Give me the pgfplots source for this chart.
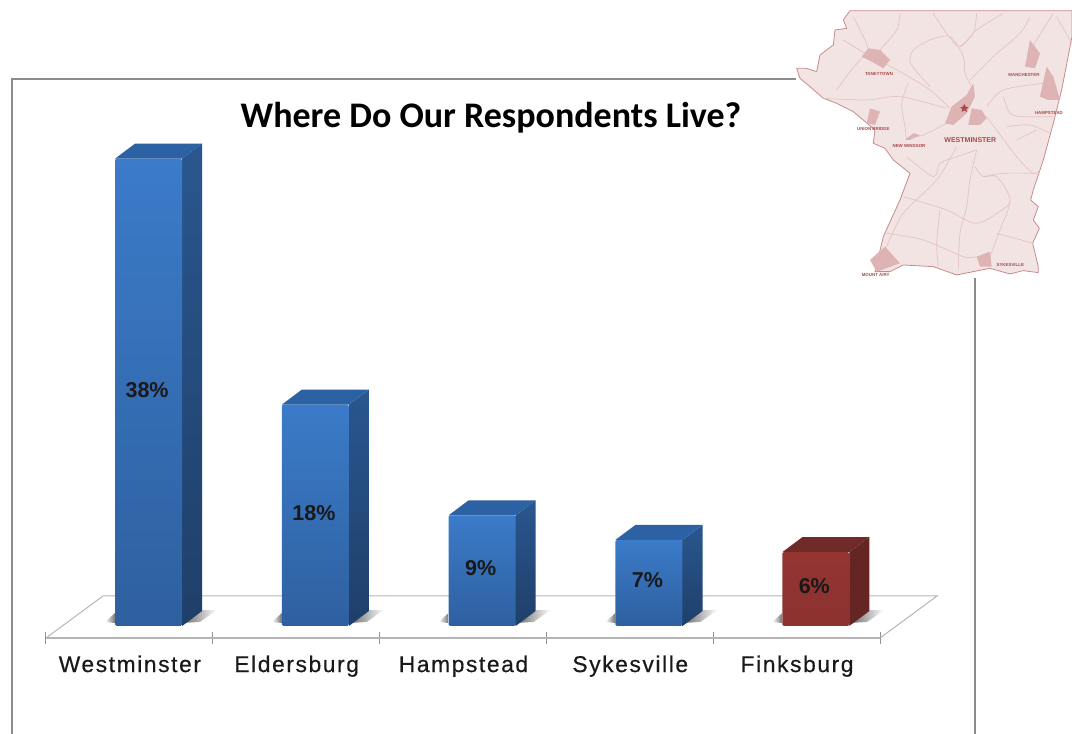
\documentclass[border=0pt]{standalone}
\usepackage{fontspec}
\setmainfont{Liberation Sans}
\newfontfamily\titlefont{Carlito}
\newfontfamily\labfont[LetterSpace=7,FakeBold=0.5]{Liberation Sans}
\usepackage{pgfplots}
\pgfplotsset{compat=1.18}
\definecolor{fronttop}{HTML}{3B7BC9}
\definecolor{frontbot}{HTML}{2E609F}
\definecolor{sidetop}{HTML}{29578F}
\definecolor{sidebot}{HTML}{1F3F69}
\definecolor{topface}{HTML}{2C61A3}
\definecolor{redfront}{HTML}{943532}
\definecolor{redfrontb}{HTML}{8C322F}
\definecolor{redside}{HTML}{642523}
\definecolor{redtop}{HTML}{702B28}
\definecolor{frameg}{HTML}{8C8C8C}
\definecolor{floorg}{HTML}{B5B5B5}
\definecolor{mapfill}{HTML}{F3E4E4}
\definecolor{mapline}{HTML}{C98A8A}
\definecolor{maproad}{HTML}{E3C3C3}
\definecolor{maptown}{HTML}{DDB3B3}
\definecolor{maptext}{HTML}{A84848}
\pgfplotsset{
  frontbar/.style={ybar, bar width=67pt, bar shift=0pt, draw=none, rounded corners=1.5pt,
     visualization depends on=rawy \as \rawy,
     nodes near coords={\pgfmathprintnumber{\pgfplotspointmeta}\%},
     every node near coord/.style={anchor=center, font=\bfseries\fontsize{21.5}{24}\selectfont, color=black!90,
        /pgf/number format/assume math mode=true,
        shift={(axis direction cs:0,-\rawy/2)}, yshift=2.5pt, xshift=-1.5pt}},
}
\begin{document}
\begin{tikzpicture}
\path[use as bounding box] (-46pt,-96pt) rectangle (1026pt,638pt);
\begin{axis}[
  at={(0pt,0pt)}, anchor=south west,
  scale only axis, width=834pt, height=504pt,
  xmin=0, xmax=5, ymin=-0.976, ymax=40,
  clip=false,
  axis y line=none,
  axis x line=bottom,
  x axis line style={-, draw=floorg, line width=1.2pt},
  xtick={0.5,1.5,2.5,3.5,4.5},
  xticklabels={Westminster,Eldersburg,Hampstead,Sykesville,Finksburg},
  minor xtick={0,1,2,3,4,5},
  major tick length=0pt,
  minor tick length=12pt,
  tick align=center,
  minor tick style={draw=floorg!80!black, line width=1pt},
  xticklabel style={font=\labfont\fontsize{22.8}{26}\selectfont, color=black!90, yshift=-14pt, xshift=0.5pt, anchor=north},
  title={\titlefont\bfseries\fontsize{36}{40}\selectfont Where Do Our Respondents Live?},
  title style={at={(0.5336,1.0377)}, anchor=center, yshift=-9pt},
]
% floor
\addplot[draw=floorg, line width=1pt, forget plot] coordinates {(0,-0.976) (0.342,2.44) (5.342,2.44) (5,-0.976)};
% shadows
\addplot[draw=none, left color=black!60, right color=white, forget plot] coordinates {(0.815,0.24) (0.941,1.3) (1.025,1.3) (0.923,0.33)} --cycle;
\addplot[draw=none, left color=black!60, right color=white, forget plot] coordinates {(1.815,0.24) (1.941,1.3) (2.025,1.3) (1.923,0.33)} --cycle;
\addplot[draw=none, left color=black!60, right color=white, forget plot] coordinates {(2.815,0.24) (2.941,1.3) (3.025,1.3) (2.923,0.33)} --cycle;
\addplot[draw=none, left color=black!60, right color=white, forget plot] coordinates {(3.815,0.24) (3.941,1.3) (4.025,1.3) (3.923,0.33)} --cycle;
\addplot[draw=none, left color=black!60, right color=white, forget plot] coordinates {(4.815,0.24) (4.941,1.3) (5.025,1.3) (4.923,0.33)} --cycle;
\addplot[draw=none, left color=white, right color=black!55, forget plot] coordinates {(0.354,0.33) (0.414,1.06) (0.414,0.24)} --cycle;
\addplot[draw=none, left color=white, right color=black!55, forget plot] coordinates {(1.354,0.33) (1.414,1.06) (1.414,0.24)} --cycle;
\addplot[draw=none, left color=white, right color=black!55, forget plot] coordinates {(2.354,0.33) (2.414,1.06) (2.414,0.24)} --cycle;
\addplot[draw=none, left color=white, right color=black!55, forget plot] coordinates {(3.354,0.33) (3.414,1.06) (3.414,0.24)} --cycle;
\addplot[draw=none, left color=white, right color=black!55, forget plot] coordinates {(4.354,0.33) (4.414,1.06) (4.414,0.24)} --cycle;
% side faces
\addplot[draw=none, top color=sidetop, bottom color=sidebot, forget plot] coordinates {(0.816,0) (0.936,1.22) (0.936,39.22) (0.816,38)} --cycle;
\addplot[draw=none, top color=sidetop, bottom color=sidebot, forget plot] coordinates {(1.816,0) (1.936,1.22) (1.936,19.22) (1.816,18)} --cycle;
\addplot[draw=none, top color=sidetop, bottom color=sidebot, forget plot] coordinates {(2.816,0) (2.936,1.22) (2.936,10.22) (2.816,9)} --cycle;
\addplot[draw=none, top color=sidetop, bottom color=sidebot, forget plot] coordinates {(3.816,0) (3.936,1.22) (3.936,8.22) (3.816,7)} --cycle;
\addplot[draw=none, fill=redside, forget plot] coordinates {(4.816,0) (4.936,1.22) (4.936,7.22) (4.816,6)} --cycle;
% top faces
\addplot[draw=none, fill=topface, forget plot] coordinates {(0.414,38) (0.534,39.22) (0.936,39.22) (0.816,38)} --cycle;
\addplot[draw=none, fill=topface, forget plot] coordinates {(1.414,18) (1.534,19.22) (1.936,19.22) (1.816,18)} --cycle;
\addplot[draw=none, fill=topface, forget plot] coordinates {(2.414,9) (2.534,10.22) (2.936,10.22) (2.816,9)} --cycle;
\addplot[draw=none, fill=topface, forget plot] coordinates {(3.414,7) (3.534,8.22) (3.936,8.22) (3.816,7)} --cycle;
\addplot[draw=none, fill=redtop, forget plot] coordinates {(4.414,6) (4.534,7.22) (4.936,7.22) (4.816,6)} --cycle;
% front faces
\addplot[frontbar, top color=fronttop, bottom color=frontbot] coordinates {(0.615,38)};
\addplot[frontbar, top color=fronttop, bottom color=frontbot] coordinates {(1.615,18)};
\addplot[frontbar, top color=fronttop, bottom color=frontbot] coordinates {(2.615,9)};
\addplot[frontbar, top color=fronttop, bottom color=frontbot] coordinates {(3.615,7)};
\addplot[frontbar, top color=redfront, bottom color=redfrontb] coordinates {(4.615,6)};
\end{axis}
% frame, in reference pixels
\begin{scope}[shift={(-46pt,638pt)}, x=1pt, y=-1pt]
\draw[frameg, line width=1.2pt] (12,734) -- (12,79) -- (796,79);
\draw[frameg, line width=1.2pt] (975,278) -- (975,734);
\end{scope}
% map, in zoomed pixels
\begin{scope}[shift={(744pt,638pt)}, x=0.3333pt, y=-0.3333pt]
\filldraw[fill=mapfill, draw=mapline, line width=0.8pt, line join=round]
 (180,32) -- (846,32) -- (846,110) -- (815,270) -- (790,370) -- (760,480) -- (730,570) -- (722,600) -- (745,620) -- (730,660) -- (748,685) -- (728,730) -- (745,800) -- (745,818) -- (700,812) -- (660,822) -- (600,805) -- (550,815) -- (500,825) -- (430,800) -- (340,795) -- (300,815) -- (255,815) -- (280,710) -- (330,600) -- (360,520) -- (310,480) -- (285,445) -- (250,430) -- (255,390) -- (190,335) -- (140,310) -- (100,295) -- (60,260) -- (30,235) -- (20,205) -- (50,205) -- (80,215) -- (90,165) -- (130,135) -- (135,90) -- (170,85) -- (160,60) -- cycle;
\begin{scope}[draw=maproad, line width=0.7pt]
\draw plot[smooth] coordinates {(160,120) (225,160) (330,215) (420,270) (480,325)};
\draw plot[smooth] coordinates {(190,50) (225,120) (240,165)};
\draw plot[smooth] coordinates {(330,40) (320,90) (270,150)};
\draw plot[smooth] coordinates {(140,270) (180,215) (220,170)};
\draw plot[smooth] coordinates {(100,295) (230,300) (330,290) (470,325)};
\draw plot[smooth] coordinates {(355,250) (335,310) (345,380) (350,420)};
\draw plot[smooth] coordinates {(420,260) (380,215) (360,185) (370,150) (420,120) (480,110) (520,170) (525,220) (545,260)};
\draw plot[smooth] coordinates {(430,40) (470,100) (510,140) (560,90) (640,40)};
\draw plot[smooth] coordinates {(560,40) (550,100) (510,140)};
\draw plot[smooth] coordinates {(720,50) (690,100) (610,170) (540,240)};
\draw plot[smooth] coordinates {(790,40) (740,120) (725,150)};
\draw plot[smooth] coordinates {(800,50) (846,130)};
\draw plot[smooth] coordinates {(590,320) (640,270) (760,250)};
\draw plot[smooth] coordinates {(590,350) (680,470) (730,520) (750,510)};
\draw plot[smooth] coordinates {(640,290) (660,340) (700,350) (790,350)};
\draw plot[smooth] coordinates {(650,380) (720,375) (780,400)};
\draw plot[smooth] coordinates {(680,420) (740,390)};
\draw plot[smooth] coordinates {(560,450) (540,540) (530,620) (510,700) (505,810)};
\draw plot[smooth] coordinates {(500,440) (440,540) (340,640) (290,740)};
\draw plot[smooth] coordinates {(340,590) (470,630) (560,670) (650,620) (660,600)};
\draw plot[smooth] coordinates {(600,770) (630,690) (660,600) (620,530) (580,530) (555,500)};
\draw plot[smooth] coordinates {(450,630) (440,730) (445,800)};
\draw plot[smooth] coordinates {(290,700) (400,720) (520,770) (560,770)};
\draw plot[smooth] coordinates {(620,700) (730,730)};
\draw plot[smooth] coordinates {(350,470) (430,530) (450,490) (500,470) (560,450)};
\draw plot[smooth] coordinates {(350,415) (400,405) (470,370)};
\draw plot[smooth] coordinates {(580,530) (640,520) (730,520)};
\end{scope}
\fill[maptown] (215,170) -- (235,145) -- (270,150) -- (300,180) -- (280,205) -- (245,185) -- cycle;
\fill[maptown] (465,370) -- (485,320) -- (530,285) -- (550,250) -- (555,290) -- (530,340) -- (490,375) -- cycle;
\fill[maptown] (535,375) -- (545,325) -- (575,330) -- (590,355) -- (570,375) -- cycle;
\fill[maptown] (705,200) -- (720,120) -- (750,160) -- (735,205) -- cycle;
\fill[maptown] (750,290) -- (770,200) -- (790,230) -- (810,300) -- (775,300) -- cycle;
\fill[maptown] (230,370) -- (240,325) -- (270,335) -- (255,375) -- cycle;
\fill[maptown] (345,420) -- (370,400) -- (390,405) -- (360,420) -- cycle;
\fill[maptown] (240,780) -- (285,740) -- (330,790) -- (260,815) -- cycle;
\fill[maptown] (560,770) -- (600,755) -- (605,800) -- (570,800) -- cycle;
\fill[maptext] (523,312) -- (527,320) -- (535,322) -- (529,328) -- (531,336) -- (523,331) -- (515,336) -- (517,328) -- (511,322) -- (519,320) -- cycle;
\begin{scope}[every node/.style={text=maptext, inner sep=0pt, font=\bfseries\fontsize{4.4}{5}\selectfont}]
\node at (267,222) {TANEYTOWN};
\node at (702,225) {MANCHESTER};
\node at (777,339) {HAMPSTEAD};
\node at (250,386) {UNION BRIDGE};
\node at (357,439) {NEW WINDSOR};
\node at (257,826) {MOUNT AIRY};
\node at (661,795) {SYKESVILLE};
\node[font=\bfseries\fontsize{7}{8}\selectfont] at (541,421) {WESTMINSTER};
\end{scope}
\end{scope}
\end{tikzpicture}
\end{document}
